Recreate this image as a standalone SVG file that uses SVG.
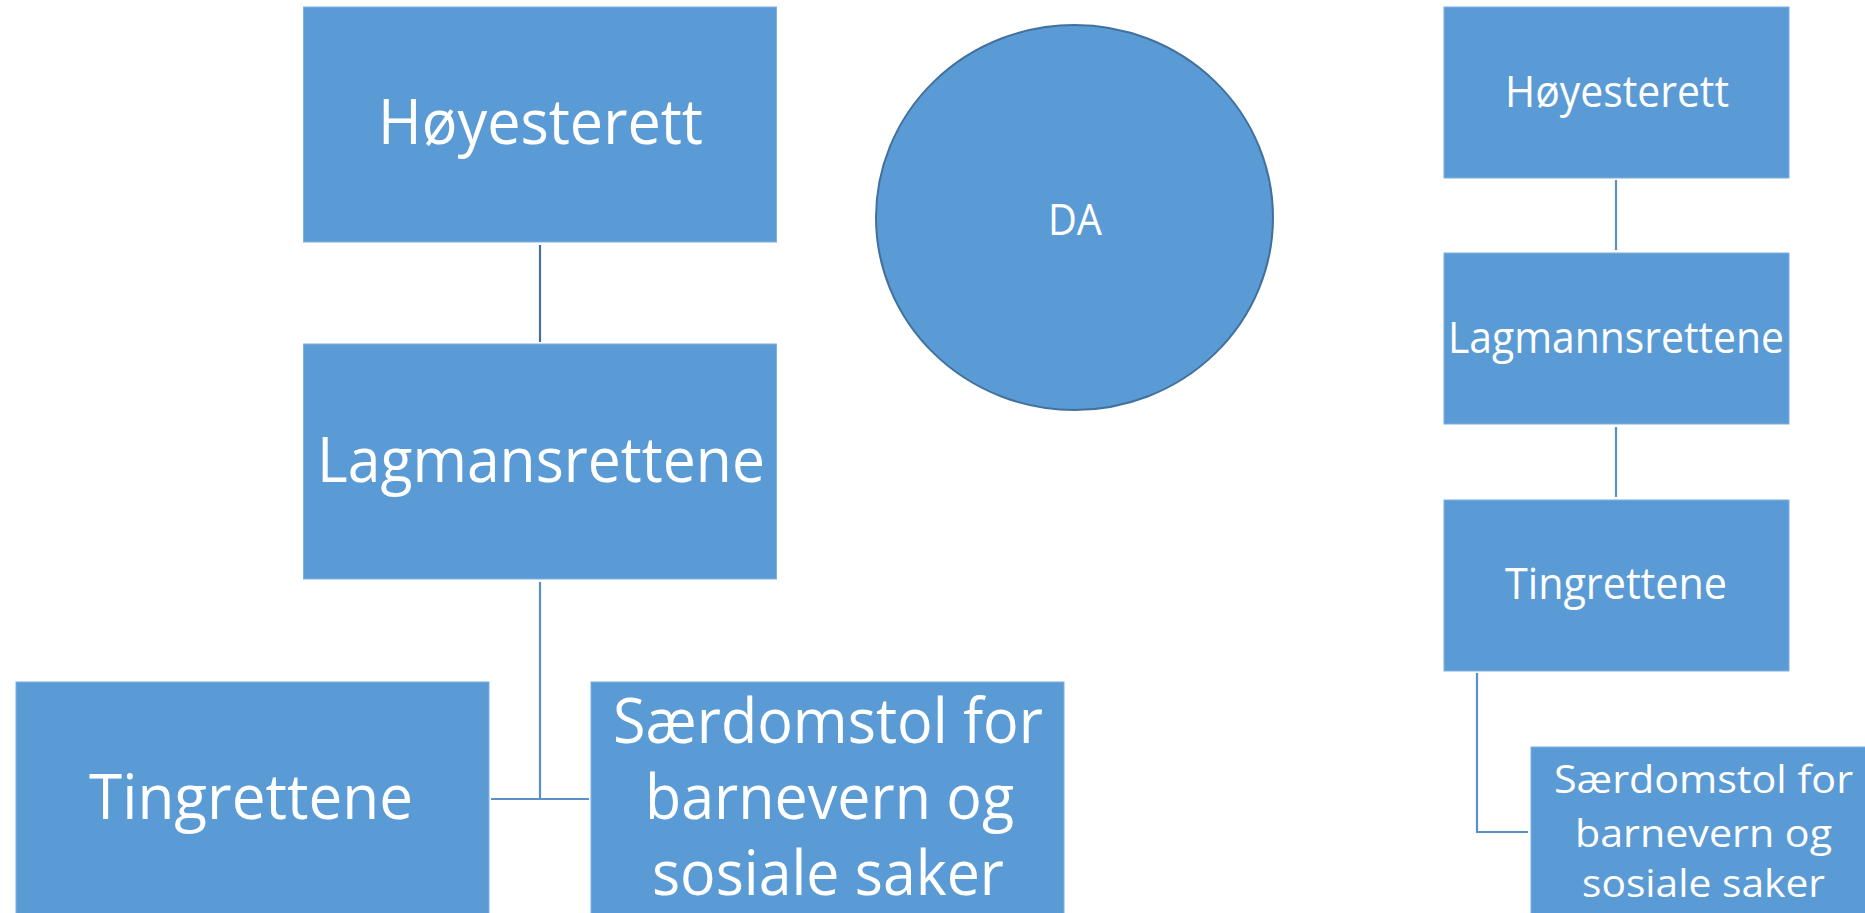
<svg xmlns="http://www.w3.org/2000/svg" width="1865" height="913" viewBox="0 0 1865 913">
  <style>
    .box { fill: #5B9BD5; stroke: #7FB0DE; stroke-width: 1; }
    .oval { fill: #5B9BD5; stroke: #41719C; stroke-width: 2; }
    .lbl { fill: #FFFFFF; font-family: "Open Sans", "Noto Sans", sans-serif; text-anchor: middle; }
    .big { font-size: 62px; }
    .small { font-size: 43px; }
    .tight { font-size: 39px; }
    .link { fill: none; stroke: #5B8FC8; stroke-width: 2.2; }
    .link.dark { stroke: #41719C; }
  </style>
  <rect width="1865" height="913" fill="#FFFFFF"/>

  <!-- connectors -->
  <g id="connectors">
    <line class="link dark" x1="540" y1="245" x2="540" y2="342"/>
    <line class="link" x1="540" y1="582" x2="540" y2="799"/>
    <line class="link" x1="491" y1="799" x2="589" y2="799"/>
    <line class="link" x1="1616" y1="180" x2="1616" y2="250"/>
    <line class="link" x1="1616" y1="427" x2="1616" y2="497"/>
    <polyline class="link" points="1477,673 1477,832 1528,832"/>
  </g>

  <!-- left chart -->
  <g id="hoyesterett-left">
    <rect class="box" x="303.5" y="7" width="473" height="235"/>
    <text class="lbl big" x="540.5" y="144" textLength="325" lengthAdjust="spacingAndGlyphs">Høyesterett</text>
  </g>
  <g id="lagmansrettene-left">
    <rect class="box" x="303.5" y="344" width="473" height="235"/>
    <text class="lbl big" x="541" y="482" textLength="448" lengthAdjust="spacingAndGlyphs">Lagmansrettene</text>
  </g>
  <g id="tingrettene-left">
    <rect class="box" x="16" y="682" width="473" height="240"/>
    <text class="lbl big" x="251" y="819" textLength="324" lengthAdjust="spacingAndGlyphs">Tingrettene</text>
  </g>
  <g id="saerdomstol-left">
    <rect class="box" x="591" y="682" width="473" height="240"/>
    <text class="lbl big" x="828" y="743" textLength="430" lengthAdjust="spacingAndGlyphs">Særdomstol for</text>
    <text class="lbl big" x="829.5" y="819" textLength="369" lengthAdjust="spacingAndGlyphs">barnevern og</text>
    <text class="lbl big" x="828" y="895" textLength="352" lengthAdjust="spacingAndGlyphs">sosiale saker</text>
  </g>

  <!-- circle -->
  <g id="da">
    <ellipse class="oval" cx="1074.5" cy="217.5" rx="198.5" ry="192.5"/>
    <text class="lbl small" x="1075" y="235" textLength="54" lengthAdjust="spacingAndGlyphs">DA</text>
  </g>

  <!-- right chart -->
  <g id="hoyesterett-right">
    <rect class="box" x="1444" y="7" width="345" height="171"/>
    <text class="lbl small" x="1617" y="107" textLength="224" lengthAdjust="spacingAndGlyphs">Høyesterett</text>
  </g>
  <g id="lagmannsrettene-right">
    <rect class="box" x="1444" y="253" width="345" height="171"/>
    <text class="lbl small" x="1616" y="353" textLength="336" lengthAdjust="spacingAndGlyphs">Lagmannsrettene</text>
  </g>
  <g id="tingrettene-right">
    <rect class="box" x="1444" y="500" width="345" height="171"/>
    <text class="lbl small" x="1616" y="599" textLength="222" lengthAdjust="spacingAndGlyphs">Tingrettene</text>
  </g>
  <g id="saerdomstol-right">
    <rect class="box" x="1531" y="747" width="345" height="175"/>
    <text class="lbl tight" x="1703.5" y="793" textLength="299" lengthAdjust="spacingAndGlyphs">Særdomstol for</text>
    <text class="lbl tight" x="1703.5" y="847" textLength="257" lengthAdjust="spacingAndGlyphs">barnevern og</text>
    <text class="lbl tight" x="1703.5" y="897" textLength="243" lengthAdjust="spacingAndGlyphs">sosiale saker</text>
  </g>
</svg>
